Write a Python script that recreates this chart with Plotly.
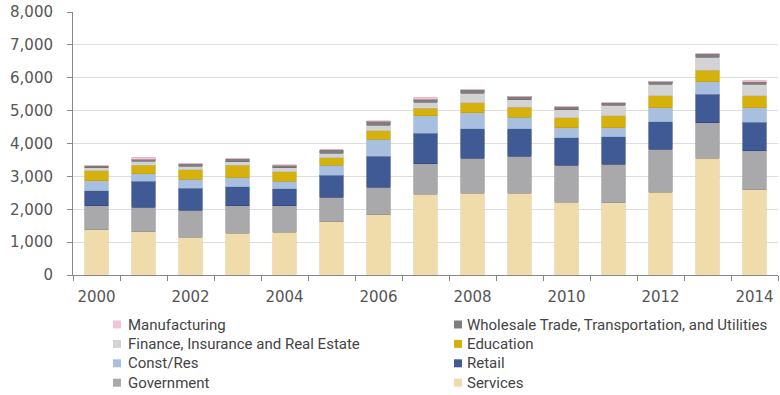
import plotly.graph_objects as go

years = [str(y) for y in range(2000, 2015)]
tick_text = [y if int(y) % 2 == 0 else "" for y in years]

# Stacked from the bottom up
services      = [1375, 1315, 1145, 1265, 1305, 1620, 1840, 2450, 2490, 2490, 2215, 2205, 2520, 3550, 2600]
government    = [ 730,  750,  830,  840,  800,  750,  830,  940, 1060, 1125, 1125, 1165, 1305, 1075, 1175]
retail        = [ 455,  790,  660,  575,  525,  670,  940,  920,  900,  840,  840,  840,  840,  870,  870]
const_res     = [ 305,  220,  285,  275,  225,  295,  515,  535,  485,  345,  305,  275,  425,  385,  445]
education     = [ 305,  265,  285,  385,  285,  230,  265,  225,  305,  305,  305,  355,  365,  355,  365]
finance       = [ 100,  120,  100,  100,  120,  140,  170,  190,  285,  225,  230,  325,  345,  385,  355]
wholesale     = [  60,   60,   80,   90,   80,  100,  120,   90,  110,  100,  100,   80,   90,  110,   70]
manufacturing = [  10,   60,   10,   15,   10,   10,   10,   60,   10,   10,   10,   10,   10,   10,   40]

series = [
    ("Services", services, "#f0dcab", "#e2cc96"),
    ("Government", government, "#a9a9ab", "#8e8e90"),
    ("Retail", retail, "#405a96", "#2e4478"),
    ("Const/Res", const_res, "#a8bfdf", "#93abcc"),
    ("Education", education, "#d6b10c", "#c09e06"),
    ("Finance, Insurance and Real Estate", finance, "#d3d3d5", "#bdbdbf"),
    ("Wholesale Trade, Transportation, and Utilities", wholesale, "#7e7e80", "#6a6a6c"),
    ("Manufacturing", manufacturing, "#f2c6d0", "#e8b3c0"),
]

W, H = 780, 395
ML, MR, MT, MB = 73, 2, 12, 120
plot_w = W - ML - MR
plot_h = H - MT - MB

fig = go.Figure()
for name, vals, color, edge in series:
    fig.add_trace(go.Bar(
        x=years, y=vals, name=name,
        marker=dict(color=color, line=dict(color=edge, width=0.6)),
    ))

# Two-column key under the chart, top of stack first, filled row by row
def px_x(px):
    return (px - ML) / plot_w

def px_y(py):
    return (H - MB - py) / plot_h

col_swatch = [113, 454]
col_text = [126, 465]
row0, row_step, sw = 324.5, 19.4, 8
shapes, notes = [], []
for i, (name, _, color, _) in enumerate(reversed(series)):
    r, c = divmod(i, 2)
    cy = row0 + r * row_step
    shapes.append(dict(
        type="rect", xref="paper", yref="paper",
        x0=px_x(col_swatch[c]), x1=px_x(col_swatch[c] + sw),
        y0=px_y(cy + sw / 2), y1=px_y(cy - sw / 2),
        fillcolor=color, line=dict(width=0),
    ))
    notes.append(dict(
        text=name, xref="paper", yref="paper",
        x=px_x(col_text[c]), y=px_y(cy),
        xanchor="left", yanchor="middle", showarrow=False,
        font=dict(family="Roboto", size=15, color="#444444"),
    ))

axis_font = dict(family="DejaVu Sans", size=15, color="#555555")

fig.update_layout(
    barmode="stack",
    bargap=0.5,
    width=W, height=H,
    margin=dict(l=ML, r=MR, t=MT, b=MB, autoexpand=False),
    paper_bgcolor="white",
    plot_bgcolor="white",
    showlegend=False,
    shapes=shapes,
    annotations=notes,
    xaxis=dict(
        type="category",
        tickmode="array", tickvals=years, ticktext=tick_text,
        tickson="boundaries",
        ticks="outside", ticklen=5, tickcolor="#888888",
        showline=True, linecolor="#888888", linewidth=1,
        showgrid=False,
        tickangle=0,
        tickfont=axis_font,
        ticklabelstandoff=8,
        range=[-0.5, 14.5],
    ),
    yaxis=dict(
        range=[0, 8000],
        tickvals=list(range(0, 8001, 1000)),
        tickformat=",d",
        ticks="outside", ticklen=5, tickcolor="#888888",
        showline=True, linecolor="#888888", linewidth=1,
        showgrid=True, gridcolor="#dedede", gridwidth=1,
        zeroline=False,
        tickfont=axis_font,
        ticklabelstandoff=11,
    ),
)

fig.write_html("out.html")
